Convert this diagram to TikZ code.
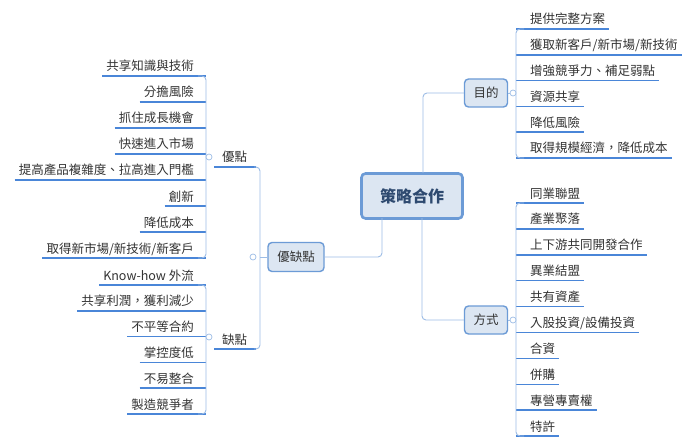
\documentclass[tikz,border=0pt]{standalone}
\usepackage{fontspec}
\newfontfamily\cjk{Noto Sans CJK TC}
\definecolor{txt}{HTML}{333333}
\definecolor{ulc}{HTML}{4A86D8}
\definecolor{brc}{HTML}{9DBDE6}
\definecolor{bdc}{HTML}{6C9BD6}
\definecolor{boxc}{HTML}{DCE6F2}
\definecolor{ctx}{HTML}{2E4A70}
\tikzset{
  leaf/.style={font=\cjk\fontsize{12.5}{14}\selectfont, text=txt, inner sep=0pt},
  ul/.style={draw=ulc, line width=1.5pt},
  br/.style={draw=brc, line width=0.9pt, rounded corners=4pt},
  topic/.style={draw=bdc, fill=boxc, line width=1.4pt, rounded corners=4pt, font=\cjk\fontsize{12.5}{14}\selectfont, text=txt, inner sep=0pt},
  knob/.style={circle, draw=brc, fill=white, line width=0.7pt, minimum size=6pt, inner sep=0pt},
}
\begin{document}
\begin{tikzpicture}[x=1pt,y=-1pt]
\useasboundingbox[fill=white] (0,0) rectangle (700,446);
% central and topics
\node[topic, line width=2.6pt, minimum width=101pt, minimum height=45pt, font=\cjk\bfseries\fontsize{16}{18}\selectfont, text=ctx] (c) at (412,196) {策略合作};
\node[topic, minimum width=43pt, minimum height=28pt] (mud) at (486,93) {目的};
\node[topic, minimum width=43pt, minimum height=28pt] (fs) at (486,320) {方式};
\node[topic, minimum width=56pt, minimum height=29pt] (yq) at (296,257) {優缺點};
\coordinate (ct) at (423,173);
\coordinate (cb1) at (382,218);
\coordinate (cb2) at (422,218);
\draw[br] (ct) |- (mud.west);
\draw[br] (cb1) |- (yq.east);
\draw[br] (cb2) |- (fs.west);

% right: 目的
\foreach \t [count=\i] in {提供完整方案,獲取新客戶/新市場/新技術,增強競爭力、補足弱點,資源共享,降低風險,取得規模經濟，降低成本}{
  \pgfmathsetmacro\yy{29+25.8*(\i-1)}
  \node[leaf, anchor=base west] (a\i) at (530,\yy-5) {\t};
  \coordinate (au\i) at (516,\yy);
  \coordinate (ae\i) at ([xshift=4pt]a\i.east);
  \draw[ul] (au\i) -- (au\i -| ae\i);
}
\draw[br] (524,29) -- (516,29) -- (516,158) -- (524,158);
\draw[br] (mud.east) -- (516,93);
\node[knob] (k1) at (513,93) {};

% right: 方式
\foreach \t [count=\i] in {同業聯盟,產業聚落,上下游共同開發合作,異業結盟,共有資產,入股投資/設備投資,合資,併購,專營專賣權,特許}{
  \pgfmathsetmacro\yy{203+25.9*(\i-1)}
  \node[leaf, anchor=base west] (b\i) at (530,\yy-5) {\t};
  \coordinate (bu\i) at (516,\yy);
  \coordinate (be\i) at ([xshift=4pt]b\i.east);
  \draw[ul] (bu\i) -- (bu\i -| be\i);
}
\draw[br] (524,203) -- (516,203) -- (516,436) -- (524,436);
\draw[br] (fs.east) -- (516,320);
\node[knob] (k2) at (513,320) {};

% left: 優點
\foreach \t [count=\i] in {共享知識與技術,分擔風險,抓住成長機會,快速進入市場,提高產品複雜度、拉高進入門檻,創新,降低成本,取得新市場/新技術/新客戶}{
  \pgfmathsetmacro\yy{76+26*(\i-1)}
  \node[leaf, anchor=base east] (l\i) at (194,\yy-5) {\t};
  \coordinate (lu\i) at (206,\yy);
  \coordinate (le\i) at ([xshift=-4pt]l\i.west);
  \draw[ul] (lu\i -| le\i) -- (lu\i);
}
\draw[br] (198,76) -- (206,76) -- (206,258) -- (198,258);

% left: 缺點
\foreach \t [count=\i] in {Know-how 外流,共享利潤，獲利減少,不平等合約,掌控度低,不易整合,製造競爭者}{
  \pgfmathsetmacro\yy{285+25.8*(\i-1)}
  \node[leaf, anchor=base east] (m\i) at (194,\yy-5) {\t};
  \coordinate (mu\i) at (206,\yy);
  \coordinate (me\i) at ([xshift=-4pt]m\i.west);
  \draw[ul] (mu\i -| me\i) -- (mu\i);
}
\draw[br] (198,285) -- (206,285) -- (206,414) -- (198,414);

% 優點 / 缺點 labels
\node[leaf, anchor=base west] (yd) at (222,162) {優點};
\node[leaf, anchor=base west] (qd) at (222,344) {缺點};
\draw[ul] (214,167) -- (256,167);
\draw[ul] (214,349) -- (256,349);
\draw[br] (254,167) -- (260,167) -- (260,349) -- (254,349);
\draw[br] (260,257) -- (yq.west);
\node[knob] (k3) at (209,157) {};
\node[knob] (k4) at (209,337) {};
\node[knob] (k5) at (253,257) {};
\end{tikzpicture}
\end{document}
